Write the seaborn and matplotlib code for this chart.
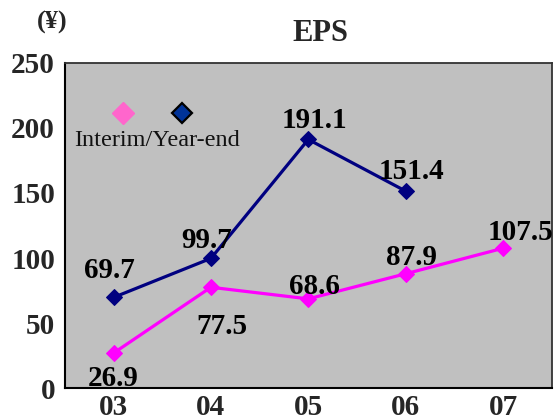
import matplotlib
matplotlib.use("Agg")
import matplotlib.pyplot as plt
import seaborn as sns
import pandas as pd

categories = ["03", "04", "05", "06", "07"]
interim = [26.9, 77.5, 68.6, 87.9, 107.5]
year_end = [69.7, 99.7, 191.1, 151.4]
y_ticks = [0, 50, 100, 150, 200, 250]

sns.set_style("white")
plt.rcParams['font.family'] = ['Liberation Serif', 'DejaVu Serif']

df_i = pd.DataFrame({"year": categories, "eps": interim})
df_y = pd.DataFrame({"year": categories[:len(year_end)], "eps": year_end})

fig = plt.figure(figsize=(5.54, 4.16), dpi=100)
ax = fig.add_axes([0.117, 0.067, 0.879, 0.782])
ax.set_facecolor("#C0C0C0")

sns.lineplot(data=df_i, x="year", y="eps", ax=ax, color="#FF00FF", lw=2.3,
             marker="D", markersize=8, markeredgecolor="#FF00FF")
sns.lineplot(data=df_y, x="year", y="eps", ax=ax, color="#000080", lw=2.3,
             marker="D", markersize=8, markeredgecolor="#000080")

ax.set_xlim(-0.5, 4.5)
ax.set_ylim(0, 250)
ax.set_yticks(y_ticks)
ax.set_xticks(range(len(categories)))
ax.set_xticklabels(categories)
ax.set_xticks([0.5, 1.5, 2.5, 3.5], minor=True)
ax.tick_params(axis="x", which="major", length=0, pad=4, labelsize=21)
ax.tick_params(axis="x", which="minor", length=5, direction="in", width=1)
ax.tick_params(axis="y", length=5, direction="in", width=1, pad=7, labelsize=21)
for lab in ax.get_xticklabels() + ax.get_yticklabels():
    lab.set_fontweight("bold")
ax.set_xlabel("")
ax.set_ylabel("")
for s in ["left", "bottom"]:
    ax.spines[s].set_color("black")
    ax.spines[s].set_linewidth(1.5)
for s in ["top", "right"]:
    ax.spines[s].set_color("#333333")
    ax.spines[s].set_linewidth(1.3)

# data labels (offsets in pixels)
lab_kw = dict(fontsize=21, fontweight="bold", color="black", ha="center", va="center")
ye_off = [(-4, 27), (-4, 18), (6, 19), (6, 20)]
for i, v in enumerate(year_end):
    ax.annotate(f"{v}", (i, v), xytext=ye_off[i], textcoords="offset pixels", **lab_kw)
in_off = [(0, -25), (11, -39), (6, 12), (6, 16), (17, 16)]
for i, v in enumerate(interim):
    ax.annotate(f"{v}", (i, v), xytext=in_off[i], textcoords="offset pixels",
                annotation_clip=False, **lab_kw)

# legend
ax.plot([0.12], [0.846], transform=ax.transAxes, marker="D", markersize=11,
        color="#FF66CC", markeredgecolor="#FF66CC", ls="none", clip_on=False)
ax.plot([0.24], [0.846], transform=ax.transAxes, marker="D", markersize=10,
        color="#003399", markeredgecolor="black", markeredgewidth=1.6, ls="none",
        clip_on=False)
ax.text(0.02, 0.76, "Interim/Year-end", transform=ax.transAxes, fontsize=17.5,
        va="center", ha="left", color="#111111")

fig.text(0.094, 0.947, "(¥)", fontsize=19, fontweight="bold", ha="center", va="center")
fig.text(0.578, 0.92, "EPS", fontsize=22, fontweight="bold", ha="center", va="center")

fig.savefig("out.png", dpi=100)
